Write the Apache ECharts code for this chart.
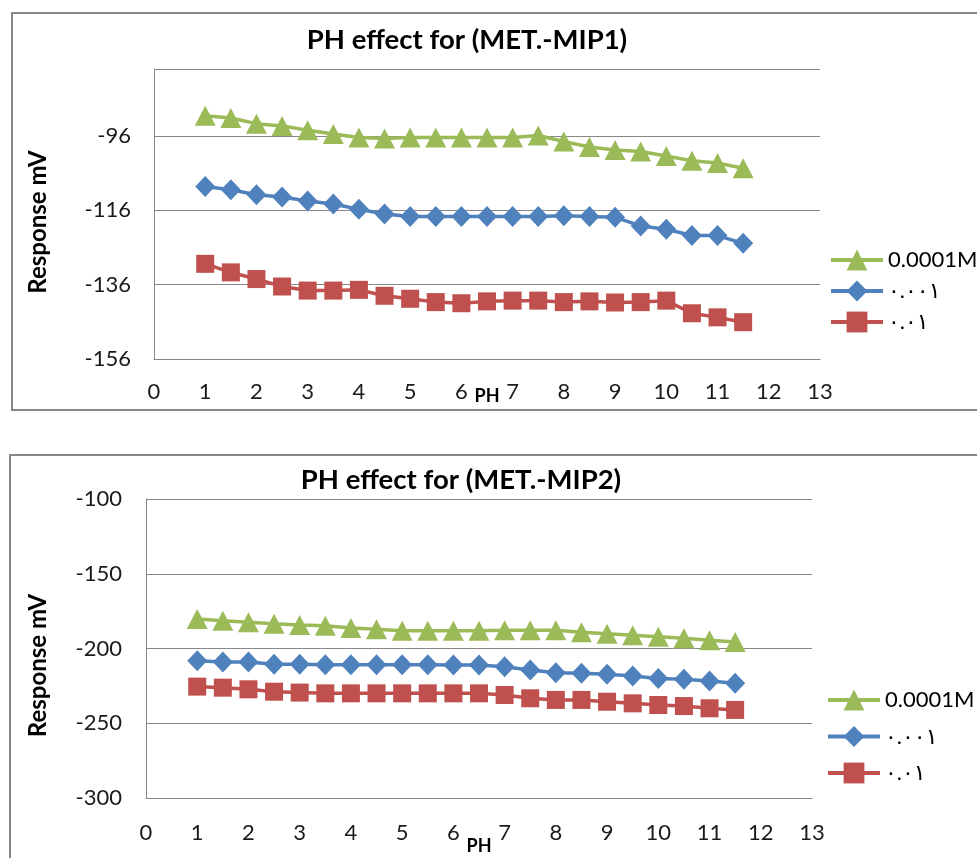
<!DOCTYPE html>
<html>
<head>
<meta charset="utf-8">
<script src="https://cdn.jsdelivr.net/npm/echarts@6/dist/echarts.min.js"></script>
<style>
  html, body { margin: 0; padding: 0; background: #fff; }
  #chart { width: 977px; height: 858px; }
</style>
</head>
<body>
<div id="chart"></div>
<script>
// pH values shared by both electrodes
const phValues = [1, 1.5, 2, 2.5, 3, 3.5, 4, 4.5, 5, 5.5, 6, 6.5, 7, 7.5, 8, 8.5, 9, 9.5, 10, 10.5, 11, 11.5];

// Series labels (concentrations)
const seriesNames = ['0.0001M', '٠.٠٠١', '٠.٠١'];

// MET.-MIP1 responses (mV)
const mip1Conc1 = [-90.6, -91.2, -92.7, -93.3, -94.5, -95.5, -96.4, -96.7, -96.4, -96.4, -96.4, -96.4, -96.4, -95.9, -97.5, -99.0, -99.8, -100.2, -101.4, -102.7, -103.3, -104.7];
const mip1Conc2 = [-109.6, -110.5, -111.8, -112.4, -113.5, -114.3, -115.7, -117.0, -117.7, -117.7, -117.7, -117.7, -117.7, -117.7, -117.5, -117.7, -117.9, -120.2, -121.1, -122.8, -122.8, -124.9];
const mip1Conc3 = [-130.4, -132.7, -134.5, -136.5, -137.6, -137.6, -137.4, -139.0, -139.8, -140.7, -141.0, -140.5, -140.3, -140.3, -140.7, -140.5, -140.8, -140.7, -140.3, -143.7, -144.8, -146.1];

// MET.-MIP2 responses (mV)
const mip2Conc1 = [-180.3, -181.4, -182.5, -183.4, -184.3, -184.8, -186.3, -187.2, -188.1, -188.1, -188.1, -188.1, -187.8, -187.8, -187.8, -189.2, -190.1, -191.2, -192.1, -193.2, -194.5, -195.7];
const mip2Conc2 = [-208.2, -209.0, -209.0, -210.6, -210.6, -210.8, -210.8, -210.8, -210.8, -210.8, -211.0, -211.0, -212.2, -214.4, -216.2, -216.6, -217.3, -218.4, -220.0, -220.6, -221.7, -223.3];
const mip2Conc3 = [-225.5, -226.2, -227.3, -228.9, -229.5, -230.0, -230.0, -230.0, -230.0, -230.0, -230.0, -230.0, -231.1, -233.3, -234.4, -234.4, -235.6, -236.7, -237.8, -238.5, -240.0, -241.1];

// Axis ticks
const xTicks = { min: 0, max: 13, interval: 1 };
const mip1Y = { min: -156, max: -78, interval: 20 };
const mip2Y = { min: -300, max: -100, interval: 50 };

const titles = ['PH effect for (MET.-MIP1)', 'PH effect for (MET.-MIP2)'];

const colors = ['#9BBB59', '#4F81BD', '#C0504D'];
const symbols = ['triangle', 'diamond', 'rect'];
const symbolSizes = [[21, 20], [20, 21], [18, 18]];
const FONT = 'Lato, "DejaVu Sans", sans-serif';
const GRID_COLOR = '#878787';

const toPairs = (ys) => phValues.map((x, i) => [x, ys[i]]);

function makeSeries(values, gridIdx) {
  return values.map((ys, k) => ({
    name: seriesNames[k],
    type: 'line',
    xAxisIndex: gridIdx,
    yAxisIndex: gridIdx,
    data: toPairs(ys),
    symbol: symbols[k],
    symbolSize: symbolSizes[k],
    showAllSymbol: true,
    color: colors[k],
    lineStyle: { width: 3.5, color: colors[k] },
    itemStyle: { color: colors[k] },
    animation: false,
    z: 3 - k
  }));
}

function xAxis(gridIdx, margin, nameGap) {
  return {
    type: 'value', gridIndex: gridIdx,
    min: xTicks.min, max: xTicks.max, interval: xTicks.interval,
    name: 'PH', nameLocation: 'middle', nameGap: nameGap, nameMoveOverlap: false,
    nameTextStyle: { fontFamily: FONT, fontWeight: 'bold', fontSize: 18, color: '#000' },
    axisLine: { show: true, onZero: false, lineStyle: { color: GRID_COLOR, width: 1 } },
    axisTick: { show: false },
    splitLine: { show: false },
    axisLabel: { fontFamily: FONT, fontSize: 22, color: '#1a1a1a', margin: margin }
  };
}

function yAxis(gridIdx, range, margin, nameGap, shiftDown) {
  return {
    type: 'value', gridIndex: gridIdx,
    min: range.min, max: range.max, interval: range.interval,
    name: 'Response mV', nameLocation: 'middle', nameGap: nameGap, nameMoveOverlap: false,
    nameTextStyle: { fontFamily: FONT, fontWeight: 'bold', fontSize: 24, color: '#000', padding: [0, shiftDown * 2, 0, 0] },
    axisLine: { show: true, lineStyle: { color: GRID_COLOR, width: 1 } },
    axisTick: { show: false },
    splitLine: { show: true, lineStyle: { color: GRID_COLOR, width: 1 } },
    axisLabel: { fontFamily: FONT, fontSize: 22, color: '#1a1a1a', margin: margin,
      showMaxLabel: (range.max - range.min) % range.interval === 0 }
  };
}

function legend(left, top, gap) {
  return {
    data: seriesNames, orient: 'vertical', left: left, top: top,
    itemWidth: 52, itemHeight: 26, itemGap: gap,
    lineStyle: { width: 4 },
    textStyle: { fontFamily: FONT, fontSize: 22, color: '#000' },
    selectedMode: false
  };
}

const chart = echarts.init(document.getElementById('chart'), null, { renderer: 'canvas' });

chart.setOption({
  backgroundColor: '#ffffff',
  animation: false,
  graphic: [
    { type: 'rect', shape: { x: 12, y: 13, width: 1000, height: 397 }, style: { fill: 'none', stroke: GRID_COLOR, lineWidth: 2 }, z: -10, silent: true },
    { type: 'rect', shape: { x: 10, y: 455, width: 1000, height: 450 }, style: { fill: 'none', stroke: GRID_COLOR, lineWidth: 2 }, z: -10, silent: true }
  ],
  title: [
    { text: titles[0], left: 462, top: 21, textAlign: 'center',
      textStyle: { fontFamily: FONT, fontWeight: 'bold', fontSize: 27.5, color: '#000' } },
    { text: titles[1], left: 456, top: 461, textAlign: 'center',
      textStyle: { fontFamily: FONT, fontWeight: 'bold', fontSize: 27.5, color: '#000' } }
  ],
  legend: [legend(824, 244, 9), legend(821, 684, 14.5)],
  grid: [
    { left: 154, top: 69, width: 666, height: 290, outerBoundsMode: 'none' },
    { left: 146, top: 499, width: 666, height: 299, outerBoundsMode: 'none' }
  ],
  xAxis: [xAxis(0, 22, 28), xAxis(1, 24, 39)],
  yAxis: [yAxis(0, mip1Y, 23, 104, 8), yAxis(1, mip2Y, 24, 96, 17)],
  series: [
    ...makeSeries([mip1Conc1, mip1Conc2, mip1Conc3], 0),
    ...makeSeries([mip2Conc1, mip2Conc2, mip2Conc3], 1)
  ]
});
</script>
</body>
</html>
